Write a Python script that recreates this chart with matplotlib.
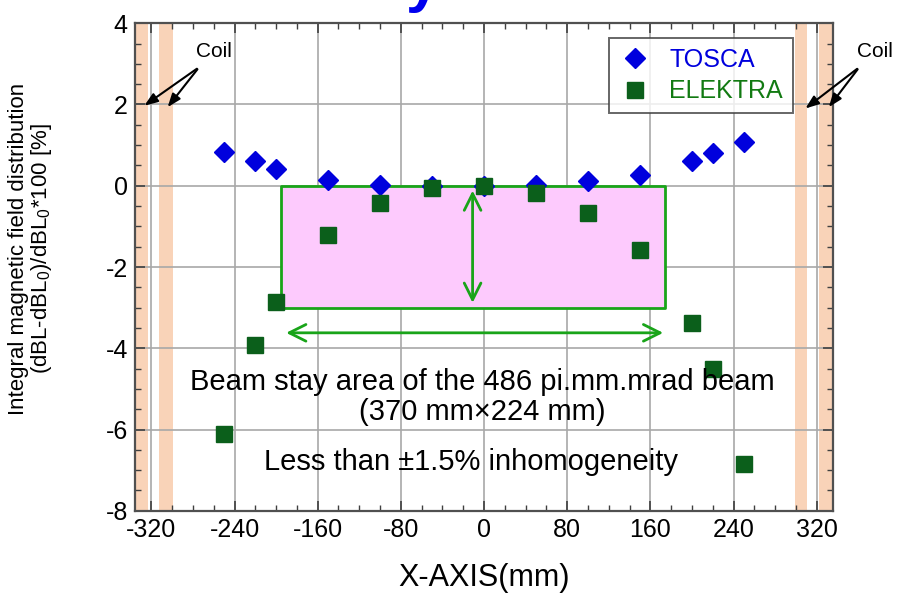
import numpy as np
import matplotlib
matplotlib.use("Agg")
import matplotlib.pyplot as plt
from matplotlib.ticker import MultipleLocator

plt.rcParams['font.family'] = ['Liberation Sans', 'DejaVu Sans']
plt.rcParams['mathtext.fontset'] = 'custom'
plt.rcParams['mathtext.rm'] = 'Liberation Sans'
plt.rcParams['mathtext.it'] = 'Liberation Sans'
plt.rcParams['axes.unicode_minus'] = False

# ----------------------------------------------------
# Data
# ----------------------------------------------------
x_pos = [-250, -220, -200, -150, -100, -50, 0, 50, 100, 150, 200, 220, 250]
tosca = [0.84, 0.60, 0.42, 0.15, 0.03, 0.0, 0.0, 0.03, 0.12, 0.27, 0.60, 0.80, 1.08]
elektra = [-6.12, -3.93, -2.85, -1.21, -0.42, -0.06, 0.0, -0.18, -0.67, -1.58, -3.38, -4.52, -6.85]

coil_bands = [(-336, -323), (-313, -299), (299, 311), (322, 336)]
beam_x = (-195, 174)
beam_y = (-3.0, 0.0)

# ----------------------------------------------------
# Figure
# ----------------------------------------------------
fig = plt.figure(figsize=(8.98, 5.96), dpi=100)
ax = fig.add_axes([0.150, 0.143, 0.778, 0.818])

ax.set_xlim(-336, 336)
ax.set_ylim(-8, 4)

for x0, x1 in coil_bands:
    ax.axvspan(x0, x1, color='#f9d3b8', zorder=0, lw=0)

ax.grid(True, which='major', color='#a8a8a8', lw=1.2, zorder=1)

# beam stay area
ax.fill_between(beam_x, beam_y[0], beam_y[1], facecolor='#fdcafd',
                edgecolor='#19a419', lw=2, zorder=2)

ax.annotate('', xy=(-11, -0.05), xytext=(-11, -2.95),
            arrowprops=dict(arrowstyle='<->,head_length=1.2,head_width=0.6',
                            color='#19a419', lw=2), zorder=3)
ax.annotate('', xy=(-193, -3.62), xytext=(175, -3.62),
            arrowprops=dict(arrowstyle='<->,head_length=1.2,head_width=0.6',
                            color='#19a419', lw=2), zorder=3)

ax.plot(x_pos, tosca, 'D', color='#0000dd', ms=10.5, mec='#0000dd',
        label='TOSCA', zorder=4, clip_on=False)
ax.plot(x_pos, elektra, 's', color='#0b5f1b', ms=11.5, mec='#0b5f1b',
        label='ELEKTRA', zorder=5, clip_on=False)

ax.text(-2, -4.84, 'Beam stay area of the 486 pi.mm.mrad beam',
        ha='center', va='center', fontsize=21, zorder=6)
ax.text(-2, -5.58, '(370 mm\u00d7224 mm)',
        ha='center', va='center', fontsize=21, zorder=6)
ax.text(-13, -6.79, 'Less than \u00b11.5% inhomogeneity',
        ha='center', va='center', fontsize=21, zorder=6)

# coil labels
arrow = dict(arrowstyle='-|>,head_length=0.8,head_width=0.3', color='black', lw=1.5)
ax.text(-260, 3.3, 'Coil', ha='center', va='center', fontsize=15)
ax.annotate('', xy=(-329, 1.93), xytext=(-274, 2.92), arrowprops=arrow,
            annotation_clip=False)
ax.annotate('', xy=(-306, 1.88), xytext=(-274, 2.92), arrowprops=arrow,
            annotation_clip=False)
ax.text(376, 3.3, 'Coil', ha='center', va='center', fontsize=15, clip_on=False)
ax.annotate('', xy=(307, 1.86), xytext=(361, 2.92), arrowprops=arrow,
            annotation_clip=False)
ax.annotate('', xy=(330, 1.88), xytext=(361, 2.92), arrowprops=arrow,
            annotation_clip=False)

# axes styling
ax.xaxis.set_major_locator(MultipleLocator(80))
ax.xaxis.set_minor_locator(MultipleLocator(20))
ax.yaxis.set_major_locator(MultipleLocator(2))
ax.yaxis.set_minor_locator(MultipleLocator(0.5))
ax.tick_params(which='both', direction='in', top=True, right=True,
               color='#404040')
ax.tick_params(which='major', length=7, width=1.2, labelsize=18, pad=5)
ax.tick_params(which='minor', length=4, width=1.0)
for s in ax.spines.values():
    s.set_color('#505050')
    s.set_linewidth(1.6)

leg = ax.legend(loc='upper right', bbox_to_anchor=(0.942, 0.97),
                fontsize=18, frameon=True, fancybox=False,
                handletextpad=0.7, borderpad=0.4, labelspacing=0.3,
                handlelength=1.3, borderaxespad=0)
leg.get_frame().set_edgecolor('#404040')
leg.get_frame().set_linewidth(1.4)
for t, c in zip(leg.get_texts(), ['#0000dd', '#127a12']):
    t.set_color(c)

fig.text(31 / 898, 1 - 249 / 596,
         'Integral magnetic field distribution\n(dBL-dBL$_0$)/dBL$_0$*100 [%]',
         rotation=90, ha='center', va='center', fontsize=16,
         multialignment='center', linespacing=1.05)
fig.text(484 / 898, 1 - 578 / 596, 'X-AXIS(mm)', ha='center', va='center',
         fontsize=22)

# blue fragment of the slide title cut at the top edge
fig.text(406 / 898, 1.0, 'y', color='#0000ee', fontsize=44, fontweight='bold',
         ha='left', va='baseline')

fig.savefig('out.png', dpi=100)
